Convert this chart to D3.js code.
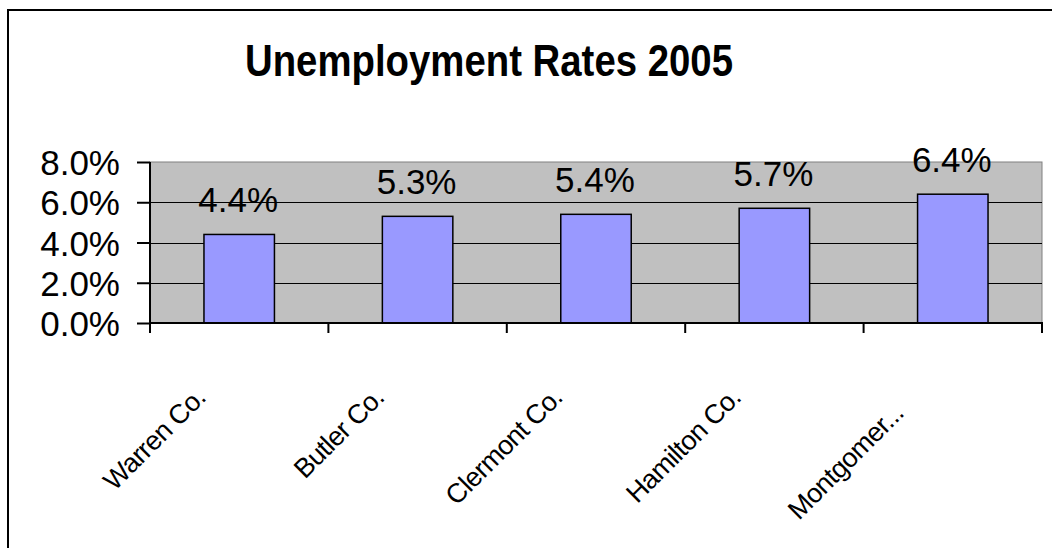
<!DOCTYPE html>
<html>
<head>
<meta charset="utf-8">
<script src="https://cdn.jsdelivr.net/npm/d3@7"></script>
<style>
  html, body { margin: 0; padding: 0; background: #fff; }
  svg { display: block; font-family: Arial, "Liberation Sans", sans-serif; }
</style>
</head>
<body>
<svg id="chart" width="1052" height="548"></svg>
<script>
// Unemployment rates by county, 2005
const counties = ["Warren Co.", "Butler Co.", "Clermont Co.", "Hamilton Co.", "Montgomer..."];
const rates = [4.4, 5.3, 5.4, 5.7, 6.4];
const yTicks = [0, 2, 4, 6, 8];
const titleText = "Unemployment Rates 2005";

const svg = d3.select("#chart");
const plot = { left: 150, right: 1042, top: 162, bottom: 323 };

// Chart frame (extends past the window on the right and bottom)
svg.append("rect")
  .attr("x", 8).attr("y", 10)
  .attr("width", 1100).attr("height", 600)
  .attr("fill", "#fff").attr("stroke", "#000").attr("stroke-width", 2);

const x = d3.scaleBand().domain(counties).range([plot.left, plot.right]).paddingInner(0).paddingOuter(0);
const y = d3.scaleLinear().domain([0, 8]).range([plot.bottom, plot.top]);

// Plot area background
svg.append("rect")
  .attr("x", plot.left).attr("y", plot.top)
  .attr("width", plot.right - plot.left).attr("height", plot.bottom - plot.top)
  .attr("fill", "#c0c0c0").attr("stroke", "#808080").attr("stroke-width", 1);

// Horizontal gridlines
svg.append("g").selectAll("line")
  .data(yTicks.filter(t => t > 0 && t < 8))
  .join("line")
  .attr("x1", plot.left).attr("x2", plot.right)
  .attr("y1", d => Math.round(y(d)) + 0.5).attr("y2", d => Math.round(y(d)) + 0.5)
  .attr("stroke", "#000").attr("stroke-width", 1);

// Bars
const barW = x.bandwidth() * 0.395;
svg.append("g").selectAll("rect")
  .data(counties.map((c, i) => ({ c, v: rates[i] })))
  .join("rect")
  .attr("x", d => x(d.c) + (x.bandwidth() - barW) / 2)
  .attr("y", d => y(d.v))
  .attr("width", barW)
  .attr("height", d => y(0) - y(d.v))
  .attr("fill", "#9999ff")
  .attr("stroke", "#000").attr("stroke-width", 1.5);

// Value labels
svg.append("g").selectAll("text")
  .data(counties.map((c, i) => ({ c, v: rates[i] })))
  .join("text")
  .attr("x", d => x(d.c) + x.bandwidth() / 2 - 1)
  .attr("y", d => y(d.v) - 22)
  .attr("text-anchor", "middle")
  .attr("font-size", 35)
  .attr("fill", "#000")
  .text(d => d.v.toFixed(1) + "%");

// Y axis
const yAxis = d3.axisLeft(y)
  .tickValues(yTicks)
  .tickSize(13)
  .tickPadding(17)
  .tickFormat(d => d.toFixed(1) + "%");
const gy = svg.append("g").attr("transform", `translate(${plot.left},0)`).call(yAxis);
gy.select(".domain").attr("stroke", "#000").attr("stroke-width", 2).attr("d", `M0,${plot.top}V${plot.bottom}`);
gy.selectAll(".tick line").attr("stroke", "#000").attr("stroke-width", 2);
gy.selectAll(".tick text")
  .attr("font-size", 35).attr("font-family", "Arial, 'Liberation Sans', sans-serif")
  .attr("fill", "#000").attr("dy", "0.36em");

// X axis: ticks sit on the category boundaries
const boundaries = counties.map(c => x(c)).concat([x.range()[1]]);
const gx = svg.append("g");
gx.append("line")
  .attr("x1", plot.left - 1).attr("x2", plot.right + 1)
  .attr("y1", plot.bottom).attr("y2", plot.bottom)
  .attr("stroke", "#000").attr("stroke-width", 2);
gx.selectAll("line.tick")
  .data(boundaries)
  .join("line").attr("class", "tick")
  .attr("x1", d => d).attr("x2", d => d)
  .attr("y1", plot.bottom).attr("y2", plot.bottom + 10)
  .attr("stroke", "#000").attr("stroke-width", 2);

// Rotated category labels; truncated names sit a little further back
gx.selectAll("text")
  .data(counties)
  .join("text")
  .attr("transform", d => `translate(${x(d) + x.bandwidth() / 2 - 32},${plot.bottom + 76}) rotate(-45)`)
  .attr("dx", d => d.endsWith("...") ? -22 : 0)
  .attr("text-anchor", "end")
  .attr("font-size", 27)
  .attr("letter-spacing", -0.6)
  .attr("fill", "#000")
  .text(d => d);

// Title
svg.append("text")
  .attr("x", 489).attr("y", 76)
  .attr("text-anchor", "middle")
  .attr("font-size", 44).attr("font-weight", "bold")
  .attr("textLength", 488).attr("lengthAdjust", "spacingAndGlyphs")
  .attr("fill", "#000")
  .text(titleText);
</script>
</body>
</html>
